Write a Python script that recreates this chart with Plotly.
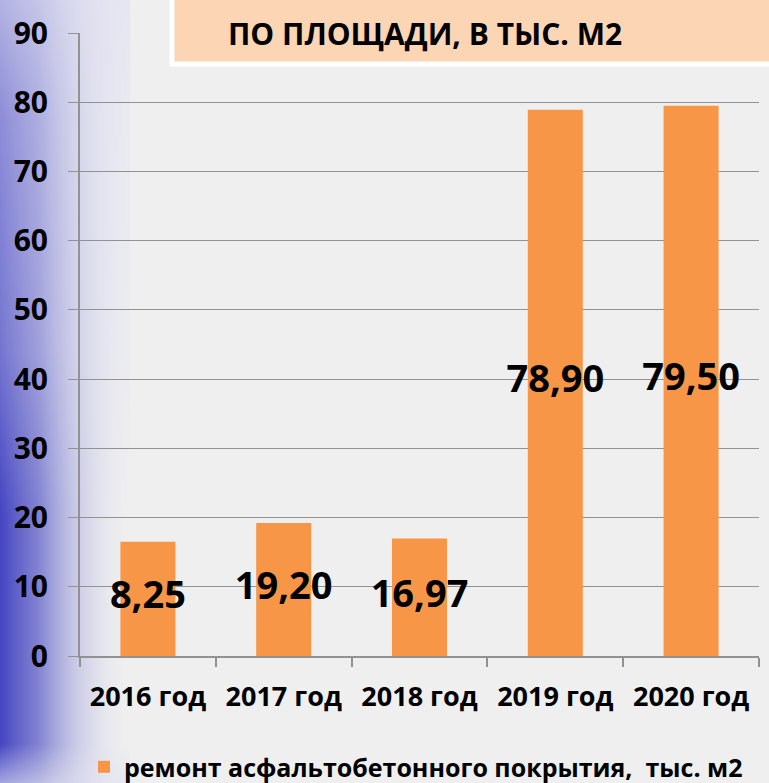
import base64
import plotly.graph_objects as go

# ---- data ----
categories = ["2016 год", "2017 год", "2018 год", "2019 год", "2020 год"]
bar_values = [16.5, 19.2, 16.97, 78.9, 79.5]
label_texts = ["8,25", "19,20", "16,97", "78,90", "79,50"]
series_name = "ремонт асфальтобетонного покрытия,  тыс. м2"
title_text = "ПО ПЛОЩАДИ, В ТЫС. М2"
y_ticks = [0, 10, 20, 30, 40, 50, 60, 70, 80, 90]

W, H = 769, 783
ML, MR, MT, MB = 80, 10, 33, 127
PW, PH = W - ML - MR, H - MT - MB

FONT = "Open Sans"
BAR_COLOR = "#F79646"
GRID = "#929292"

# background gradient (left blue strip) as an SVG image
svg = f'''<svg xmlns="http://www.w3.org/2000/svg" width="{W}" height="{H}" viewBox="0 0 {W} {H}" preserveAspectRatio="none">
<defs>
<linearGradient id="h" x1="0" y1="0" x2="1" y2="0">
<stop offset="0" stop-color="#4545c2" stop-opacity="1"/>
<stop offset="0.3" stop-color="#7070cc" stop-opacity="0.85"/>
<stop offset="0.6" stop-color="#b0b0e0" stop-opacity="0.55"/>
<stop offset="0.85" stop-color="#dcdcef" stop-opacity="0.3"/>
<stop offset="1" stop-color="#efefef" stop-opacity="0"/>
</linearGradient>
<linearGradient id="v" x1="0" y1="0" x2="0" y2="1">
<stop offset="0" stop-color="#e2e2f2" stop-opacity="0.7"/>
<stop offset="0.15" stop-color="#e2e2f2" stop-opacity="0.45"/>
<stop offset="0.45" stop-color="#e2e2f2" stop-opacity="0.3"/>
<stop offset="0.65" stop-color="#e2e2f2" stop-opacity="0.0"/>
<stop offset="0.95" stop-color="#e2e2f2" stop-opacity="0"/>
<stop offset="1" stop-color="#e2e2f2" stop-opacity="0.6"/>
</linearGradient>
</defs>
<rect x="0" y="0" width="{W}" height="{H}" fill="#efefef"/>
<rect x="0" y="0" width="130" height="{H}" fill="url(#h)"/>
<rect x="0" y="0" width="130" height="{H}" fill="url(#v)"/>
</svg>'''
src = "data:image/svg+xml;base64," + base64.b64encode(svg.encode()).decode()

fig = go.Figure()
fig.add_trace(go.Bar(
    x=categories, y=bar_values, name=series_name,
    marker=dict(color=BAR_COLOR, line=dict(width=0)),
    showlegend=True,
))
fig.add_trace(go.Scatter(
    x=categories, y=[v / 2 for v in bar_values], text=label_texts,
    mode="text", textposition="middle center",
    textfont=dict(family=FONT, size=38, color="black", weight="bold"),
    showlegend=False, hoverinfo="skip",
))

fig.update_layout(
    width=W, height=H,
    margin=dict(l=ML, r=MR, t=MT, b=MB, autoexpand=False),
    paper_bgcolor="#EFEFEF", plot_bgcolor="rgba(0,0,0,0)",
    bargap=0.595,
    font=dict(family=FONT, color="black"),
    images=[dict(source=src, xref="paper", yref="paper",
                 x=-ML / PW, y=1 + MT / PH, sizex=W / PW, sizey=H / PH,
                 xanchor="left", yanchor="top", sizing="stretch", layer="below")],
    legend=dict(orientation="h", x=(416 - ML) / PW, xanchor="center",
                y=(H - MB - 767) / PH, yanchor="middle",
                font=dict(family=FONT, size=25, color="black", weight="bold"),
                bgcolor="rgba(0,0,0,0)"),
    shapes=[dict(type="rect", xref="paper", yref="paper",
                 x0=(172 - ML) / PW, x1=(W + 20 - ML) / PW,
                 y0=(H - MB - 64) / PH, y1=(H - MB + 10) / PH,
                 fillcolor="#FCD5B5", line=dict(color="white", width=5), layer="above")],
    annotations=[dict(text=title_text, xref="paper", yref="paper",
                      x=(425 - ML) / PW, y=(H - MB - 33) / PH,
                      xanchor="center", yanchor="middle", showarrow=False,
                      font=dict(family=FONT, size=30, color="black", weight="bold"))],
)
fig.update_xaxes(
    type="category", showline=True, linecolor=GRID, linewidth=2,
    ticks="outside", tickson="boundaries", ticklen=9, tickcolor=GRID, tickwidth=2,
    tickfont=dict(family=FONT, size=27, color="black", weight="bold"),
    ticklabelstandoff=16, showgrid=False,
)
fig.update_yaxes(
    range=[0, 90], tickvals=y_ticks, showline=True, linecolor=GRID, linewidth=2,
    ticks="outside", ticklen=10, tickcolor=GRID, tickwidth=1.3,
    showgrid=True, gridcolor=GRID, gridwidth=1.3, zeroline=False,
    tickfont=dict(family=FONT, size=30, color="black", weight="bold"),
    ticklabelstandoff=14,
)

fig.write_html("out.html",
               config={"displayModeBar": False},
               post_script="document.body.style.margin='0';document.body.style.padding='0';document.body.style.overflow='hidden';")
